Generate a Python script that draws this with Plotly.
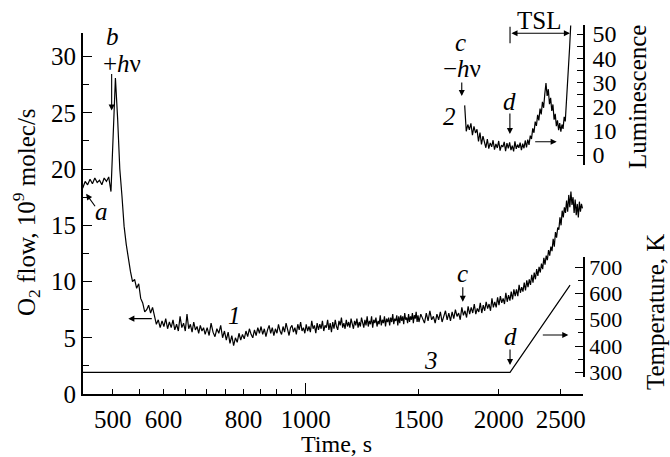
import numpy as np
import plotly.graph_objects as go

FONT = "Liberation Serif"

# ---- curve 1: O2 flow (10^9 molec/s), three sampling stretches ----
flow_a_start, flow_a_step = 449, 4      # s
flow_a = [
    18.3, 18.9, 18.6, 19.1, 18.7, 19.2, 18.8, 19.0, 18.6, 19.2, 18.9, 19.3, 18.0,
    24.0, 28.1, 24.5, 20.0, 17.6, 14.9, 13.3, 12.0, 10.9, 10.0,
    10.2, 9.4, 9.8, 8.5, 8.1, 7.3, 7.5, 7.9, 7.2, 7.7,
    6.9, 6.2, 6.6, 5.9, 6.5, 6.0, 6.7, 5.8, 6.4, 5.9,
    6.6, 5.7, 6.2, 5.6, 6.9, 5.9, 6.3, 5.6, 7.1, 5.8,
    6.2, 5.5, 6.4, 5.7, 6.0, 5.4, 6.1, 5.6, 5.9, 5.3,
]
flow_b_start, flow_b_step = 702, 5      # s
flow_b = [
    5.9, 5.2, 6.3, 5.5, 5.1, 5.8, 5.4, 6.1, 5.0, 5.6,
    4.8, 5.5, 4.5, 5.2, 4.3, 5.0, 4.6, 5.4, 4.8, 5.3,
    4.9, 5.6, 5.1, 5.8, 5.3, 5.0, 5.7, 5.2, 5.9, 5.4,
    6.0, 5.3, 5.8, 5.1, 5.7, 6.1, 5.4, 5.9, 5.2, 5.8,
    5.4, 6.2, 5.6, 5.3, 6.0, 5.5, 6.3, 5.7, 5.2, 5.9,
    6.1, 5.5, 5.9, 5.3, 6.2, 5.7, 6.4, 5.6, 5.9, 5.4,
    6.2, 5.6, 6.0, 5.5, 6.5, 5.8, 6.1, 5.4, 6.3, 5.7,
    6.2, 5.8, 6.5, 5.6, 6.1, 5.9, 6.6, 5.7, 6.3, 5.5,
    6.4, 5.8, 6.6, 6.0, 5.7, 6.5, 6.1, 6.8, 5.9, 6.3,
    5.8, 6.6, 6.0, 6.4, 5.9, 6.7, 6.2, 5.8, 6.5, 6.1,
    6.7, 5.9, 6.4, 6.0, 6.8, 6.2, 5.9, 6.6, 6.1, 6.9,
    6.0, 6.5, 6.2, 6.9, 5.9, 6.6, 6.3, 6.8, 6.0, 6.5,
    6.2, 7.0, 6.1, 6.6, 6.3, 6.9, 6.0, 6.7, 6.4, 6.8,
    6.1, 6.8, 6.4, 7.1, 6.2, 6.7, 6.5, 7.0, 6.1, 6.9,
    6.3, 7.0, 6.5, 6.9, 6.2, 7.2, 6.6, 6.8, 6.3, 7.1,
    6.4, 6.9, 6.6, 7.2, 6.3, 7.0, 6.7, 7.3, 6.4, 7.0,
]
flow_c_start, flow_c_step = 1502, 10    # s
flow_c = [
    6.4, 7.1, 6.7, 6.3, 7.2, 6.5, 7.4, 6.6, 6.9, 6.3,
    7.1, 6.6, 7.3, 6.4, 6.9, 7.4, 6.6, 7.2, 6.5, 7.3,
    6.7, 7.5, 6.9, 7.2, 6.6, 7.7, 7.0, 7.4, 6.8, 7.8,
    7.1, 7.7, 7.2, 8.0, 7.1, 7.6, 7.3, 8.1, 7.2, 7.9,
    7.4, 8.2, 7.6, 8.0, 7.4, 8.5, 7.7, 8.2, 7.7, 8.6,
    7.9, 8.7, 8.1, 8.5, 8.0, 9.0, 8.2, 8.8, 8.3, 9.1,
    8.4, 9.3, 8.7, 9.3, 8.7, 9.7, 9.0, 9.5, 9.1, 9.9,
    9.2, 10.1, 9.5, 10.2, 9.7, 10.6, 9.9, 10.8, 10.2, 11.1,
    10.5, 11.3, 10.8, 11.6, 11.1, 12.1, 11.5, 12.3, 11.9, 12.8,
    12.3, 13.1, 12.7, 13.8, 13.1, 14.4, 13.9, 14.8, 14.6, 15.7,
    15.0, 16.3, 15.7, 16.6, 16.1, 17.2, 16.2, 17.7, 16.6, 18.0,
    16.8, 17.5, 16.1, 17.3, 15.9, 16.9, 15.7, 17.1, 16.2, 16.9, 16.5,
]

# ---- curve 2: luminescence (arb. units) ----
lum_start, lum_step = 1770, 10          # s
lum = [
    20.5, 9.8, 12.6, 10.4, 13.1, 8.2, 11.8, 9.1, 10.6, 5.6,
    9.3, 4.4, 7.8, 5.1, 3.0, 6.6, 2.6, 5.0, 3.4, 6.1,
    2.2, 4.6, 2.9, 5.8, 1.8, 4.1, 3.3, 5.4, 1.6, 4.9,
    2.7, 5.2, 2.0, 3.9, 1.5, 5.6, 2.5, 4.3, 3.0, 5.1,
    2.0, 4.7, 2.8, 6.0, 3.1, 6.4, 4.2, 8.0, 6.6, 11.0,
    9.2, 13.8, 12.0, 16.6, 14.3, 19.2, 16.8, 22.0, 19.5, 25.2,
    29.7, 24.4, 27.2, 21.0, 23.6, 18.2, 20.9, 14.6, 17.0, 11.9,
    14.3, 10.3, 13.2, 9.6, 12.6, 10.8, 15.8, 13.9, 21.4, 24.9,
    33.0, 44.5, 53.5,
]

# ---- curve 3: temperature (K) ----
temp_t = [449, 2083, 2584]
temp_K = [300, 300, 632]

# ---- axis ticks ----
x_ticks = [500, 600, 800, 1000, 1500, 2000, 2500]
x_minor = [550, 650, 700, 750, 850, 900, 950]
flow_ticks = [0, 5, 10, 15, 20, 25, 30]
flow_minor = [2.5, 7.5, 12.5, 17.5, 22.5, 27.5]
lum_ticks = [0, 10, 20, 30, 40, 50]
lum_minor = [5, 15, 25, 35, 45]
temp_ticks = [300, 400, 500, 600, 700]
temp_minor = [350, 450, 550, 650]

t_flow = np.concatenate([
    flow_a_start + flow_a_step * np.arange(len(flow_a)),
    flow_b_start + flow_b_step * np.arange(len(flow_b)),
    flow_c_start + flow_c_step * np.arange(len(flow_c)),
])
v_flow = flow_a + flow_b + flow_c
t_lum = lum_start + lum_step * np.arange(len(lum))

line_style = dict(color="black", width=1.2)
fig = go.Figure()
fig.add_trace(go.Scatter(x=t_flow, y=v_flow, mode="lines", line=line_style,
                         xaxis="x", yaxis="y"))
fig.add_trace(go.Scatter(x=t_lum, y=lum, mode="lines", line=line_style,
                         xaxis="x", yaxis="y3"))
fig.add_trace(go.Scatter(x=temp_t, y=temp_K, mode="lines", line=line_style,
                         xaxis="x", yaxis="y4"))
# empty trace so the overlay x axis (long decade tick) is drawn
fig.add_trace(go.Scatter(x=[], y=[], xaxis="x2", yaxis="y"))

x_range = [np.log10(449.5), np.log10(2707)]
tick_font = dict(family=FONT, size=25, color="black")
common = dict(showgrid=False, zeroline=False, showline=True, linecolor="black",
              ticks="inside", tickcolor="black", tickwidth=1.3)

fig.update_layout(
    width=670, height=457,
    margin=dict(l=83, r=87, t=25, b=63),
    paper_bgcolor="white", plot_bgcolor="rgba(0,0,0,0)",
    showlegend=False,
    font=dict(family=FONT, size=25, color="black"),
    xaxis=dict(type="log", range=x_range, domain=[0, 1], anchor="y",
               linewidth=1.8, ticklen=5, tickvals=x_ticks,
               ticktext=[str(v) for v in x_ticks], tickfont=tick_font,
               ticklabelstandoff=2,
               minor=dict(tickvals=x_minor, ticks="inside", ticklen=5,
                          tickwidth=1.3, tickcolor="black", showgrid=False),
               **common),
    xaxis2=dict(type="log", range=x_range, overlaying="x", anchor="y",
                side="bottom", tickvals=[1000], ticks="inside", ticklen=11,
                tickwidth=1.3, tickcolor="black", showticklabels=False,
                showline=False, showgrid=False, zeroline=False),
    yaxis=dict(domain=[0, 0.9775], range=[0, 32.07], anchor="x",
               linewidth=1.8, ticklen=9, tickvals=flow_ticks,
               tickfont=tick_font,
               minor=dict(tickvals=flow_minor, ticks="inside", ticklen=6,
                          tickwidth=1.3, tickcolor="black", showgrid=False),
               **common),
    yaxis3=dict(domain=[0.6206, 1.0], range=[-4.13, 53.72], anchor="x",
                side="right", linewidth=1.6, ticklen=6, tickvals=lum_ticks,
                tickfont=dict(family=FONT, size=24, color="black"),
                ticklabelstandoff=3,
                minor=dict(tickvals=lum_minor, ticks="inside", ticklen=6,
                           tickwidth=1.3, tickcolor="black", showgrid=False),
                **common),
    yaxis4=dict(domain=[0.0469, 0.3721], range=[283.3, 740.3], anchor="x",
                side="right", linewidth=1.6, ticklen=8, tickvals=temp_ticks,
                tickfont=dict(family=FONT, size=22, color="black"),
                minor=dict(tickvals=temp_minor, ticks="inside", ticklen=5,
                           tickwidth=1.3, tickcolor="black", showgrid=False),
                **common),
)


def label(text, t, v, yref, size=25, italic=True):
    return dict(text=f"<i>{text}</i>" if italic else text,
                x=np.log10(t), y=v, xref="x", yref=yref, showarrow=False,
                xanchor="center", yanchor="middle",
                font=dict(family=FONT, size=size, color="black"))


def arrow(t, v, yref, ax, ay, side="end"):
    return dict(text="", x=np.log10(t), y=v, xref="x", yref=yref,
                showarrow=True, ax=ax, ay=ay, axref="pixel", ayref="pixel",
                arrowhead=2, arrowsize=1.1, arrowwidth=1.1,
                arrowcolor="black", standoff=0, startstandoff=0,
                arrowside=side)


def title(text, x, y, angle=0, size=25):
    return dict(text=text, x=x, y=y, xref="paper", yref="paper",
                showarrow=False, textangle=angle,
                xanchor="center", yanchor="middle",
                font=dict(family=FONT, size=size, color="black"))


annotations = [
    # curve 1 markers
    label("a", 480.7, 16.2, "y"),
    arrow(454.6, 17.8, "y", 10, 14),
    label("b", 499.6, 31.8, "y"),
    label("+<i>h</i>ν", 516.4, 29.4, "y", italic=False),
    arrow(498.2, 25.2, "y", 0, -38),
    label("1", 775.7, 7.0, "y"),
    arrow(528.9, 6.7, "y", 25, 0),
    label("c", 1758, 10.7, "y"),
    arrow(1758, 8.2, "y", 0, -16),
    # curve 3 markers
    label("3", 1570, 3.0, "y"),
    label("d", 2087, 435.6, "y4"),
    arrow(2083, 327.8, "y4", 0, -17),
    arrow(2568, 442.1, "y4", -27, 0),
    # curve 2 markers
    label("c", 1745, 46.6, "y3"),
    label("−<i>h</i>ν", 1751.5, 35.8, "y3", italic=False),
    arrow(1751.5, 24.4, "y3", 0, -15),
    label("2", 1679, 15.8, "y3"),
    label("d", 2082, 22.0, "y3"),
    arrow(2082, 8.7, "y3", 0, -22),
    arrow(2463, 5.5, "y3", -23, 0),
    arrow(2583, 50.3, "y3", -60, 0, side="end+start"),
    # TSL caption above the interval bracket
    dict(text="TSL", x=np.log10(2311), y=1.013, xref="x", yref="paper",
         showarrow=False, xanchor="center", yanchor="middle",
         font=dict(family=FONT, size=25, color="black")),
    # axis titles
    title("Time, s", 0.507, -0.135, size=24),
    title("O<sub>2</sub> flow, 10<sup>9</sup> molec/s", -0.113, 0.492, -90),
    title("Luminescence", 1.11, 0.805, -90),
    title("Temperature, K", 1.144, 0.222, -90),
]
fig.update_layout(annotations=annotations)

# left end bar of the TSL interval
fig.add_shape(type="line", xref="x", yref="y3", x0=2083, x1=2083,
              y0=46.2, y1=53.0, line=dict(color="black", width=1.1))

fig.write_html("out.html")
